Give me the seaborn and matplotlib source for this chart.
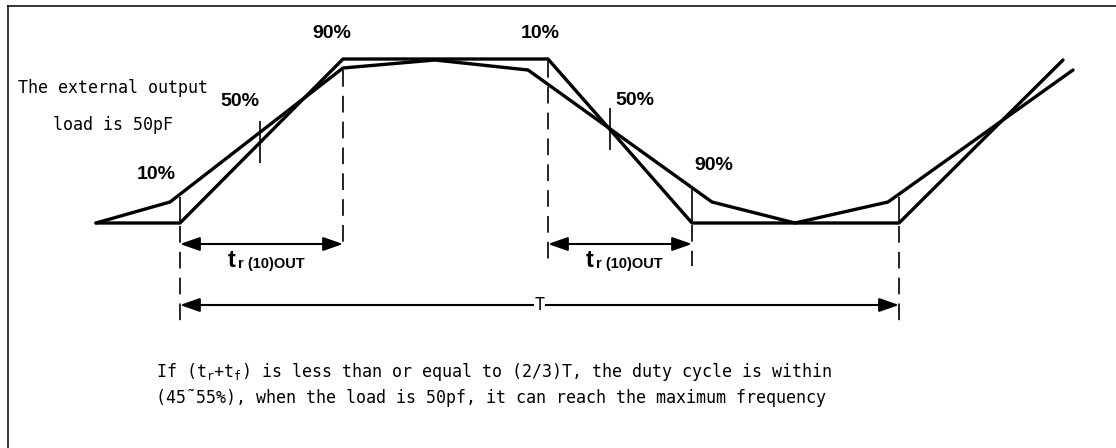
import matplotlib
matplotlib.use("Agg")
import matplotlib.pyplot as plt
import numpy as np
import pandas as pd
import seaborn as sns

# ---------------- data (pixel-space diagram coordinates) ----------------
slow_x = [96, 170, 343, 435, 528, 712, 795, 888, 1073]
slow_y = [223, 202, 68, 60, 70, 202, 223, 202, 70]
fast_x = [96, 180, 343, 548, 692, 899, 1063]
fast_y = [223, 223, 59, 59, 223, 223, 60]

dash_x = [180, 343, 548, 692, 899]
dash_top = [226, 70, 61, 225, 226]
dash_bottom = [327, 243, 266, 266, 327]

tick_x = [180, 260, 610, 692, 899]
tick_top = [197, 121, 108, 188, 197]
tick_bottom = [223, 163, 150, 222, 223]

pct_labels = ["90%", "10%", "50%", "10%", "50%", "90%"]
pct_x = [332, 540, 240, 156, 635, 714]
pct_y = [34, 34, 102, 175, 101, 166]

tr_start = [180, 548]
tr_end = [343, 692]
tr_y = 244
period_start, period_end, period_y = 180, 899, 305

note_lines = ["The external output", "load is 50pF"]
footer_lines = [
    r"If ($\mathrm{t_r}$+$\mathrm{t_f}$) is less than or equal to (2/3)T, the duty cycle is within",
    "(45\u02dc55%), when the load is 50pf, it can reach the maximum frequency",
]

# ---------------- style ----------------
sns.set_style("white")
plt.rcParams["font.family"] = ["DejaVu Sans Mono", "DejaVu Sans"]
plt.rcParams["mathtext.fontset"] = "custom"
plt.rcParams["mathtext.rm"] = "DejaVu Sans Mono"
plt.rcParams["mathtext.it"] = "DejaVu Sans Mono"
plt.rcParams["text.color"] = "black"
BOLD = ["Liberation Sans", "DejaVu Sans"]

W, H = 1116, 448
fig = plt.figure(figsize=(W / 100, H / 100), dpi=100)
ax = fig.add_axes([8 / W, 0, 1 - 8 / W, 1 - 6 / H])

for name, sp in ax.spines.items():
    if name in ("left", "top"):
        sp.set_visible(True)
        sp.set_color("black")
        sp.set_linewidth(1.1)
    else:
        sp.set_visible(False)

# waveforms
df_slow = pd.DataFrame({"x": slow_x, "y": slow_y})
df_fast = pd.DataFrame({"x": fast_x, "y": fast_y})
sns.lineplot(data=df_slow, x="x", y="y", sort=False, estimator=None,
             color="black", lw=2.4, ax=ax)
sns.lineplot(data=df_fast, x="x", y="y", sort=False, estimator=None,
             color="black", lw=2.4, ax=ax)

# dashed reference lines and solid ticks
ax.vlines(dash_x, dash_top, dash_bottom, colors="black", lw=1.2,
          linestyles=(0, (10, 5.5)))
ax.vlines(tick_x, tick_top, tick_bottom, colors="black", lw=1.2)

# percentage labels
for lab, x, y in zip(pct_labels, pct_x, pct_y):
    ax.text(x, y, lab, ha="center", va="center", family=BOLD,
            weight="bold", fontsize=14, color="black")

# t_r arrows and labels
astyle = "<|-|>,head_length=0.8,head_width=0.28"
for x0, x1 in zip(tr_start, tr_end):
    ax.annotate("", xy=(x1, tr_y), xytext=(x0, tr_y),
                arrowprops=dict(arrowstyle=astyle, color="black", lw=1.5,
                                shrinkA=0, shrinkB=0, mutation_scale=15))
    cx = (x0 + x1) / 2 + 2
    ax.text(cx - 36, 267, "t", ha="left", va="baseline", family=BOLD,
            weight="bold", fontsize=17, color="black")
    ax.text(cx - 26, 268, "r (10)OUT", ha="left", va="baseline", family=BOLD,
            weight="bold", fontsize=10.5, color="black")

# period arrow
ax.annotate("", xy=(period_end, period_y), xytext=(period_start, period_y),
            arrowprops=dict(arrowstyle=astyle, color="black", lw=1.5,
                            shrinkA=0, shrinkB=0, mutation_scale=15))
ax.text((period_start + period_end) / 2, period_y, "T", ha="center",
        va="center", fontsize=12, color="black",
        bbox=dict(fc="white", ec="none", pad=0.3))

# notes
ax.text(113, 88, note_lines[0], ha="center", va="center", fontsize=12,
        color="black")
ax.text(113, 125, note_lines[1], ha="center", va="center", fontsize=12,
        color="black")

ax.text(156, 372, footer_lines[0], ha="left", va="center", fontsize=12,
        color="black")
ax.text(156, 398, footer_lines[1], ha="left", va="center", fontsize=12,
        color="black")

ax.set_xlim(8, W)
ax.set_ylim(H, 6)
ax.set_xticks([])
ax.set_yticks([])
ax.set_xlabel("")
ax.set_ylabel("")

fig.savefig("out.png", dpi=100, facecolor="white")
